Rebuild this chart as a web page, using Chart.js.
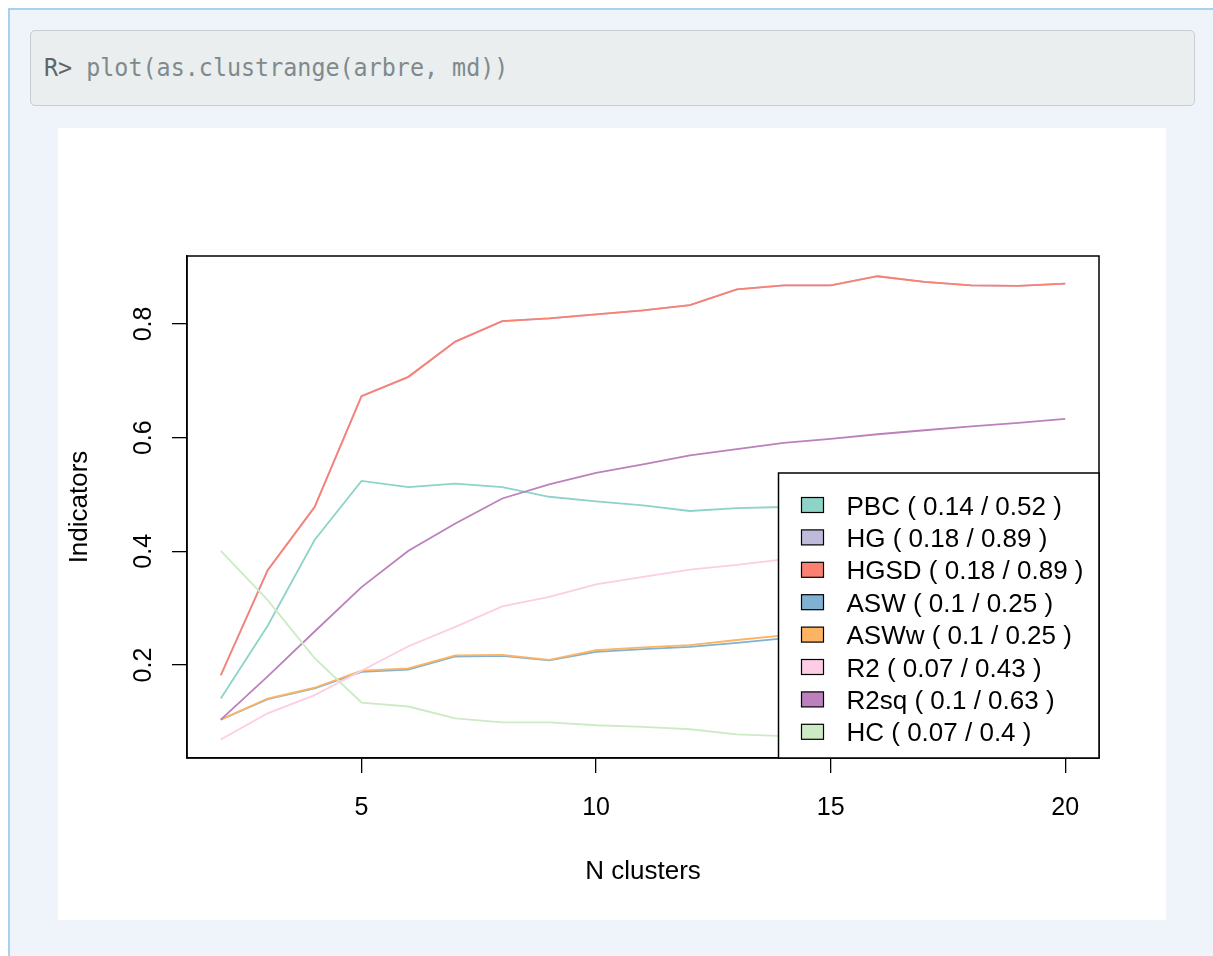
<!DOCTYPE html>
<html><head><meta charset="utf-8">
<script src="https://cdn.jsdelivr.net/npm/chart.js@4.4.1/dist/chart.umd.min.js"></script>
<style>
html,body{margin:0;padding:0;width:1213px;height:956px;overflow:hidden;background:#fff;}
#page{position:absolute;left:8px;top:8px;width:1205px;height:948px;background:#EEF4FA;border-left:2px solid #A9D1EC;border-top:2px solid #A9D1EC;box-sizing:border-box;}
#code{position:absolute;left:30px;top:30px;width:1165px;height:76px;background:#EBEEEF;border:1.5px solid #C9CDCE;border-radius:5px;box-sizing:border-box;}
#code div{position:absolute;left:13px;top:22px;font-family:"DejaVu Sans Mono",monospace;font-size:25px;line-height:30px;color:#7E8A8C;white-space:pre;transform:scaleX(0.935);transform-origin:0 0;}
#code b{font-weight:normal;color:#5E6668;}
#wrap{position:absolute;left:58px;top:128px;width:1108px;height:792px;background:#fff;}
</style></head>
<body>
<div id="page"></div>
<div id="code"><div><b>R&gt;</b> plot(as.clustrange(arbre, md))</div></div>
<div id="wrap"><canvas id="c" width="1108" height="792"></canvas></div>
<script>
const clusters = [2,3,4,5,6,7,8,9,10,11,12,13,14,15,16,17,18,19,20];
const PBC  = [0.141,0.269,0.420,0.524,0.513,0.519,0.513,0.496,0.488,0.481,0.471,0.476,0.478,0.479,0.477,0.475,0.473,0.471,0.469];
const HGSD = [0.182,0.367,0.478,0.673,0.707,0.769,0.805,0.810,0.817,0.824,0.833,0.861,0.868,0.868,0.884,0.874,0.868,0.867,0.871];
const HG   = [0.182,0.367,0.478,0.673,0.707,0.769,0.805,0.810,0.817,0.824,0.833,0.861,0.868,0.868,0.884,0.874,0.868,0.867,0.871];
const ASW  = [0.104,0.140,0.159,0.188,0.192,0.215,0.216,0.208,0.223,0.228,0.232,0.239,0.247,0.250,0.249,0.248,0.248,0.247,0.247];
const ASWw = [0.104,0.141,0.160,0.190,0.194,0.217,0.218,0.209,0.226,0.231,0.235,0.244,0.252,0.253,0.252,0.251,0.251,0.250,0.250];
const R2   = [0.069,0.115,0.147,0.190,0.233,0.267,0.303,0.320,0.342,0.355,0.368,0.376,0.386,0.395,0.403,0.410,0.417,0.424,0.430];
const R2sq = [0.104,0.180,0.259,0.337,0.401,0.449,0.493,0.518,0.538,0.553,0.569,0.580,0.591,0.598,0.606,0.613,0.620,0.626,0.633];
const HC   = [0.401,0.314,0.212,0.134,0.127,0.106,0.099,0.099,0.094,0.091,0.087,0.078,0.075,0.073,0.072,0.071,0.070,0.070,0.070];
const seriesNames = ["PBC","HG","HGSD","ASW","ASWw","R2","R2sq","HC"];
const seriesData = [PBC,HG,HGSD,ASW,ASWw,R2,R2sq,HC];
const seriesColors = ["#8DD3C7","#BEBADA","#FB8072","#80B1D3","#FDB462","#FCCDE5","#BC80BD","#CCEBC5"];
const legendLabels = ["PBC ( 0.14 / 0.52 )","HG ( 0.18 / 0.89 )","HGSD ( 0.18 / 0.89 )","ASW ( 0.1 / 0.25 )","ASWw ( 0.1 / 0.25 )","R2 ( 0.07 / 0.43 )","R2sq ( 0.1 / 0.63 )","HC ( 0.07 / 0.4 )"];
const xTicks = [5,10,15,20];
const xTickLabels = ["5","10","15","20"];
const yTicks = [0.2,0.4,0.6,0.8];
const yTickLabels = ["0.2","0.4","0.6","0.8"];
const xTitle = "N clusters";
const yTitle = "Indicators";

const FONT = '"Liberation Sans", Arial, sans-serif';

const overlay = {
  id:'overlay',
  afterDatasetsDraw(chart){
    const ctx = chart.ctx, a = chart.chartArea;
    const ys = chart.scales.y, xs = chart.scales.x;
    ctx.save();
    // box
    ctx.strokeStyle='#000'; ctx.lineWidth=1.5;
    ctx.strokeRect(a.left, a.top, a.right-a.left, a.bottom-a.top);
    // legend
    const lx = a.left + 591.5, ly = a.top + 217, lw = a.right - (a.left+591.5), lh = a.bottom - ly;
    ctx.fillStyle='#fff'; ctx.fillRect(lx, ly, lw, lh);
    ctx.strokeRect(lx, ly, lw, lh);
    ctx.font = '26px '+FONT; ctx.textBaseline='alphabetic'; ctx.textAlign='left';
    for(let i=0;i<legendLabels.length;i++){
      const cy = ly + 32 + i*32.4;
      ctx.fillStyle = seriesColors[i];
      ctx.fillRect(lx+23, cy-7.5, 22, 15);
      ctx.lineWidth=1.2; ctx.strokeStyle='#000';
      ctx.strokeRect(lx+23, cy-7.5, 22, 15);
      ctx.fillStyle='#000';
      ctx.fillText(legendLabels[i], lx+68, cy+9.5);
    }
    // y tick labels rotated
    ctx.font = '25px '+FONT; ctx.textAlign='center'; ctx.textBaseline='alphabetic';
    yTicks.forEach((v,i)=>{
      const py = ys.getPixelForValue(v);
      ctx.save(); ctx.translate(a.left-36.3, py); ctx.rotate(-Math.PI/2);
      ctx.fillText(yTickLabels[i], 0, 0); ctx.restore();
    });
    // x tick labels
    xTicks.forEach((v,i)=>{
      ctx.fillText(xTickLabels[i], xs.getPixelForValue(v), a.bottom+57);
    });
    // titles
    ctx.font = '26px '+FONT;
    ctx.save(); ctx.translate(29, (a.top+a.bottom)/2); ctx.rotate(-Math.PI/2);
    ctx.fillText(yTitle, 0, 0); ctx.restore();
    ctx.fillText(xTitle, (a.left+a.right)/2, a.bottom+121);
    ctx.restore();
  }
};

new Chart(document.getElementById('c'), {
  type:'line',
  data:{
    datasets: seriesNames.map((n,i)=>({
      label:n,
      data: clusters.map((c,j)=>({x:c, y:seriesData[i][j]})),
      borderColor: seriesColors[i],
      backgroundColor: seriesColors[i],
      borderWidth:1.8,
      pointRadius:0,
      tension:0,
      fill:false,
      order: seriesNames.length - i
    }))
  },
  options:{
    responsive:false, animation:false,
    layout:{padding:{top:128,right:67,left:0,bottom:0}},
    plugins:{legend:{display:false}, tooltip:{enabled:false}},
    scales:{
      x:{type:'linear', min:1.28, max:20.72,
        afterBuildTicks(s){ s.ticks = xTicks.map(v=>({value:v})); },
        afterFit(s){ s.height = 162; },
        grid:{drawOnChartArea:false, drawTicks:true, tickLength:15, color:'#000', lineWidth:1.3},
        border:{display:true,color:'#000',width:1.5},
        ticks:{color:'rgba(0,0,0,0)', font:{family:FONT,size:22}, maxRotation:0, autoSkip:false}
      },
      y:{type:'linear', min:0.0364, max:0.9196,
        afterBuildTicks(s){ s.ticks = yTicks.map(v=>({value:v})); },
        afterFit(s){ s.width = 129; },
        grid:{drawOnChartArea:false, drawTicks:true, tickLength:15, color:'#000', lineWidth:1.3},
        border:{display:true,color:'#000',width:1.5},
        ticks:{color:'rgba(0,0,0,0)', font:{family:FONT,size:22}}
      }
    }
  },
  plugins:[overlay]
});
</script>
</body></html>
